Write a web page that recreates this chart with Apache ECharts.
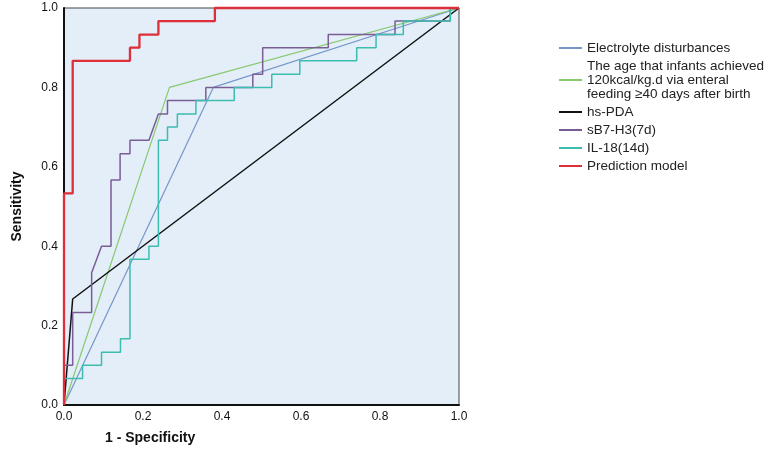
<!DOCTYPE html>
<html>
<head>
<meta charset="utf-8">
<script src="https://cdn.jsdelivr.net/npm/echarts@6/dist/echarts.min.js"></script>
<style>
  html, body { margin: 0; padding: 0; background: #fff; }
  #rocChart { width: 768px; height: 465px; }
</style>
</head>
<body>
<div id="rocChart"></div>
<script>
// ROC curves, x = 1 - specificity, y = sensitivity
const axisTicks = [0, 0.2, 0.4, 0.6, 0.8, 1.0];

const electrolyteX = [0, 0.378, 1];
const electrolyteY = [0, 0.8, 1];

const feedingX = [0, 0.267, 1];
const feedingY = [0, 0.8, 1];

const pdaX = [0, 0.022, 1];
const pdaY = [0, 0.267, 1];

const b7h3X = [0, 0, 0.022, 0.022, 0.070, 0.070, 0.095, 0.119, 0.119, 0.142, 0.142, 0.167, 0.167, 0.215, 0.239,
    0.262, 0.262, 0.359, 0.359, 0.478, 0.478, 0.503, 0.503, 0.669, 0.669, 0.838, 0.838, 0.978, 0.978, 1];
const b7h3Y = [0, 0.1, 0.1, 0.233, 0.233, 0.333, 0.4, 0.4, 0.567, 0.567, 0.633, 0.633, 0.667, 0.667, 0.733,
    0.733, 0.767, 0.767, 0.8, 0.8, 0.833, 0.833, 0.9, 0.9, 0.933, 0.933, 0.967, 0.967, 1, 1];

const il18X = [0, 0, 0.047, 0.047, 0.095, 0.095, 0.143, 0.143, 0.167, 0.167, 0.215, 0.215, 0.239, 0.239, 0.262,
    0.262, 0.287, 0.287, 0.334, 0.334, 0.431, 0.431, 0.526, 0.526, 0.597, 0.597, 0.741, 0.741, 0.790, 0.790,
    0.859, 0.859, 0.978, 0.978, 1];
const il18Y = [0, 0.067, 0.067, 0.1, 0.1, 0.133, 0.133, 0.167, 0.167, 0.367, 0.367, 0.4, 0.4, 0.667, 0.667,
    0.7, 0.7, 0.733, 0.733, 0.767, 0.767, 0.8, 0.8, 0.833, 0.833, 0.867, 0.867, 0.9, 0.9, 0.933,
    0.933, 0.967, 0.967, 1, 1];

const modelX = [0, 0, 0.022, 0.022, 0.167, 0.167, 0.191, 0.191, 0.239, 0.239, 0.382, 0.382, 1];
const modelY = [0, 0.533, 0.533, 0.867, 0.867, 0.9, 0.9, 0.933, 0.933, 0.967, 0.967, 1, 1];

const curves = [
    { name: 'Electrolyte disturbances', x: electrolyteX, y: electrolyteY, color: '#7597c8', width: 1.2 },
    { name: 'The age that infants achieved\n120kcal/kg.d via enteral\nfeeding ≥40 days after birth', x: feedingX, y: feedingY, color: '#86c96f', width: 1.2 },
    { name: 'hs-PDA', x: pdaX, y: pdaY, color: '#111111', width: 1.5 },
    { name: 'sB7-H3(7d)', x: b7h3X, y: b7h3Y, color: '#7b5d96', width: 1.5 },
    { name: 'IL-18(14d)', x: il18X, y: il18Y, color: '#3dbdb0', width: 1.5 },
    { name: 'Prediction model', x: modelX, y: modelY, color: '#dc2f3a', width: 2.3 }
];

const myChart = echarts.init(document.getElementById('rocChart'));
myChart.setOption({
    animation: false,
    textStyle: { fontFamily: 'Liberation Sans, Arial, sans-serif' },
    grid: {
        left: 64, right: 309, top: 8, bottom: 60,
        show: true,
        backgroundColor: '#e3eef9',
        borderColor: '#444',
        borderWidth: 1
    },
    xAxis: {
        type: 'value',
        min: 0, max: 1, interval: 0.2,
        axisLine: { show: true, onZero: false, lineStyle: { color: '#111', width: 2 } },
        axisTick: { show: false },
        splitLine: { show: false },
        axisLabel: {
            color: '#111', fontSize: 12, margin: 6,
            formatter: v => axisTicks.includes(+v.toFixed(1)) ? v.toFixed(1) : ''
        }
    },
    yAxis: {
        type: 'value',
        min: 0, max: 1, interval: 0.2,
        name: 'Sensitivity',
        nameLocation: 'middle',
        nameGap: 40,
        nameTextStyle: { color: '#111', fontSize: 14, fontWeight: 'bold' },
        axisLine: { show: true, onZero: false, lineStyle: { color: '#111', width: 2 } },
        axisTick: { show: false },
        splitLine: { show: false },
        axisLabel: {
            color: '#111', fontSize: 12, margin: 6,
            formatter: v => v.toFixed(1)
        }
    },
    legend: {
        orient: 'vertical',
        left: 559, top: 41,
        padding: 0,
        itemGap: 4,
        itemWidth: 23,
        itemHeight: 2,
        icon: 'rect',
        textStyle: { color: '#222', fontSize: 13.5, lineHeight: 14 },
        data: curves.map(c => ({ name: c.name, itemStyle: { color: c.color } }))
    },
    graphic: [{
        type: 'text',
        left: 105, top: 431,
        style: { text: '1 - Specificity', fill: '#111', font: 'bold 14px Liberation Sans, Arial, sans-serif' }
    }],
    series: curves.map(c => ({
        name: c.name,
        type: 'line',
        symbol: 'none',
        data: c.x.map((x, i) => [x, c.y[i]]),
        lineStyle: { color: c.color, width: c.width },
        itemStyle: { color: c.color },
        clip: false
    }))
});
</script>
</body>
</html>
